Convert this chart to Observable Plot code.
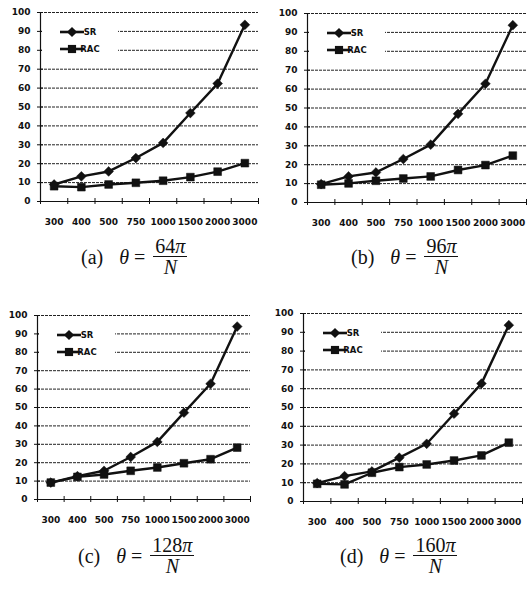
<!DOCTYPE html>
<html><head><meta charset="utf-8">
<script src="https://cdn.jsdelivr.net/npm/d3@7"></script>
<script src="https://cdn.jsdelivr.net/npm/@observablehq/plot@0.6"></script>
<style>
body{margin:0;background:#fff}
#root{position:relative;width:528px;height:590px;overflow:hidden;background:#fff}
.panel{position:absolute;width:264px;height:240px}
.panel svg{position:absolute;left:0;top:0}
.panel svg text{font-weight:bold;font-family:'DejaVu Sans',Verdana,sans-serif}
.cap{position:absolute;display:flex;align-items:center;font-family:"Liberation Serif",serif;font-size:20px;color:#111;white-space:nowrap}
.frac{display:inline-flex;flex-direction:column;align-items:stretch;text-align:center}
.frac .num{border-bottom:1.2px solid #111;padding:0 2px;line-height:1.0}
.frac .den{line-height:1.05}
</style></head><body><div id="root"></div>
<script>
// ---- data ----
const sizes = ["300", "400", "500", "750", "1000", "1500", "2000", "3000"];
const srA  = [9.0, 13.3, 15.9, 23.0, 31.0, 46.8, 62.4, 93.5];
const racA = [8.1, 7.6, 9.0, 9.9, 11.0, 12.9, 15.8, 20.3];
const srB  = [9.7, 13.8, 15.9, 23.0, 30.6, 46.9, 62.8, 93.8];
const racB = [9.4, 10.1, 11.5, 12.7, 13.8, 17.2, 19.8, 24.8];
const srC  = [9.2, 12.7, 15.6, 23.1, 31.3, 47.2, 62.9, 94.0];
const racC = [9.2, 12.3, 13.6, 15.6, 17.4, 19.7, 21.9, 28.2];
const srD  = [9.8, 13.5, 16.0, 23.3, 30.7, 46.7, 62.7, 93.8];
const racD = [9.4, 9.1, 15.3, 18.3, 19.7, 21.8, 24.5, 31.3];
const yTicks = [0, 10, 20, 30, 40, 50, 60, 70, 80, 90, 100];
const seriesNames = ["SR", "RAC"];
const seriesSymbols = ["diamond2", "square"];
const panelTags = ["(a)", "(b)", "(c)", "(d)"];
const thetaNums = ["64", "96", "128", "160"];

// ---- layout ----
const panels = [
  {sr: srA, rac: racA, left: 0,   top: 0,   ml: 40, mr: 6,  mt: 12, mb: 39, capL: 81,  capY: 257},
  {sr: srB, rac: racB, left: 264, top: 0,   ml: 43, mr: 2,  mt: 13, mb: 38, capL: 351, capY: 257},
  {sr: srC, rac: racC, left: 0,   top: 300, ml: 37, mr: 14, mt: 15, mb: 41, capL: 78,  capY: 556},
  {sr: srD, rac: racD, left: 264, top: 300, ml: 39, mr: 6,  mt: 13, mb: 39, capL: 340, capY: 556}
];
const W = 264, H = 240;
const font = "'DejaVu Sans', Verdana, sans-serif";
const root = document.getElementById("root");
const idx = d3.range(sizes.length);
const bounds = d3.range(sizes.length + 1).map(i => i - 0.5);
const xDomain = [bounds[0], bounds[bounds.length - 1]];

panels.forEach((p, k) => {
  const div = document.createElement("div");
  div.className = "panel";
  div.style.left = p.left + "px";
  div.style.top = p.top + "px";
  root.appendChild(div);

  const series = [p.sr, p.rac];
  const marks = [
    Plot.ruleY(yTicks.filter(v => v > 0), {stroke: "#222", strokeWidth: 1, strokeDasharray: "3,1"}),
    Plot.ruleY([0], {stroke: "#111", strokeWidth: 1.2}),
    Plot.ruleX([xDomain[0]], {stroke: "#111", strokeWidth: 1.2}),
    Plot.axisY({ticks: yTicks, tickSize: 6, dx: 3, tickPadding: 7, fontSize: 9, fontFamily: font, stroke: "#111", fill: "#111"}),
    Plot.axisX({ticks: bounds, tickSize: 6, dy: -3, tickFormat: () => "", stroke: "#111"}),
    Plot.axisX({ticks: idx, tickSize: 0, tickPadding: 17, tickFormat: i => sizes[i], fontSize: 9, fontFamily: font, fill: "#111"})
  ];
  series.forEach((vals, s) => {
    marks.push(Plot.line(idx, {x: i => i, y: i => vals[i], stroke: "#111", strokeWidth: 2.4}));
    marks.push(Plot.dot(idx, {x: i => i, y: i => vals[i], symbol: seriesSymbols[s], r: 4.4, fill: "#111", stroke: "#111", strokeWidth: 0.5}));
  });
  const chart = Plot.plot({
    width: W, height: H,
    marginLeft: p.ml, marginRight: p.mr, marginTop: p.mt, marginBottom: p.mb,
    style: {background: "transparent", overflow: "visible"},
    x: {type: "linear", domain: xDomain, axis: null},
    y: {domain: [0, 100], axis: null},
    marks
  });
  div.appendChild(chart);

  // legend inside plot area (top-left)
  const svg = d3.select(chart);
  const lg = svg.append("g").attr("transform", `translate(${p.ml},${p.mt})`);
  lg.append("rect").attr("x", 2).attr("y", 10).attr("width", 76).attr("height", 35).attr("fill", "#fff");
  seriesNames.forEach((name, s) => {
    const yy = 20 + s * 17;
    lg.append("line").attr("x1", 20).attr("x2", 44).attr("y1", yy).attr("y2", yy)
      .attr("stroke", "#111").attr("stroke-width", 2.6);
    const sym = s === 0 ? d3.symbolDiamond2 : d3.symbolSquare;
    lg.append("path").attr("d", d3.symbol(sym, Math.PI * 4.6 * 4.6)())
      .attr("transform", `translate(32,${yy})`).attr("fill", "#111");
    lg.append("text").attr("x", 50).attr("y", yy).attr("dy", "0.35em")
      .attr("font-size", 8.5).attr("fill", "#111").text(name);
  });

  // caption
  const cap = document.createElement("div");
  cap.className = "cap";
  cap.style.left = p.capL + "px";
  cap.style.top = (p.capY - 21) + "px";
  cap.innerHTML = `<span>${panelTags[k]}</span><span style="margin-left:16px"><i>θ</i> =</span>` +
    `<span class="frac" style="margin-left:8px"><span class="num">${thetaNums[k]}<i>π</i></span><span class="den"><i>N</i></span></span>`;
  root.appendChild(cap);
});
</script></body></html>
